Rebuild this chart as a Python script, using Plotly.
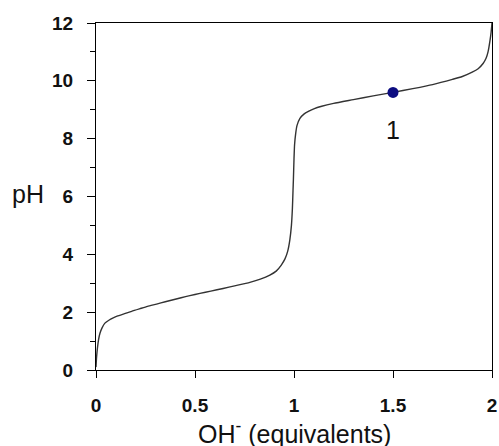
import plotly.graph_objects as go

# Titration curve
oh_equiv = [0, 0.003, 0.007, 0.013, 0.02, 0.03, 0.045, 0.065, 0.087, 0.11, 0.138, 0.18,
            0.222, 0.26, 0.306, 0.35, 0.39, 0.43, 0.474, 0.525, 0.58, 0.642, 0.70, 0.777,
            0.83, 0.878, 0.91, 0.935, 0.955, 0.968, 0.979, 0.987, 0.992, 0.995, 0.997,
            1.0, 1.003, 1.008, 1.015, 1.03, 1.05, 1.075, 1.1, 1.14, 1.2, 1.3, 1.4, 1.5,
            1.6, 1.7, 1.8, 1.85, 1.9, 1.93, 1.955, 1.97, 1.98, 1.99, 1.995, 2.0]
ph_values = [0.1, 0.45, 0.75, 1.05, 1.27, 1.45, 1.62, 1.72, 1.8, 1.87, 1.93, 2.03,
             2.12, 2.2, 2.28, 2.36, 2.43, 2.5, 2.57, 2.65, 2.73, 2.82, 2.91, 3.03,
             3.14, 3.28, 3.42, 3.62, 3.85, 4.1, 4.5, 5.0, 5.6, 6.2, 6.6,
             7.3, 7.8, 8.15, 8.45, 8.7, 8.85, 8.95, 9.03, 9.12, 9.22, 9.35, 9.48, 9.6,
             9.73, 9.87, 10.05, 10.15, 10.3, 10.42, 10.6, 10.78, 11.0, 11.4, 11.65, 12.0]

point_x = [1.5]
point_y = [9.6]
point_label = ["1"]

x_ticks = [0, 0.5, 1, 1.5, 2]
x_tick_text = ["0", "0.5", "1", "1.5", "2"]
y_ticks = [0, 2, 4, 6, 8, 10, 12]

fig = go.Figure()
fig.add_trace(go.Scatter(x=oh_equiv, y=ph_values, mode="lines",
                         line=dict(color="#333333", width=1.4, shape="spline", smoothing=0.6),
                         showlegend=False, hoverinfo="skip"))
fig.add_trace(go.Scatter(x=point_x, y=point_y, mode="markers",
                         marker=dict(color="#0c0c80", size=11),
                         showlegend=False))
for px, py, lbl in zip(point_x, point_y, point_label):
    fig.add_annotation(x=px, y=py - 1.3, text=lbl, showarrow=False,
                       font=dict(family="Liberation Sans, Arial", size=25, color="#111111"))

fig.add_annotation(xref="paper", yref="y", x=-0.172, y=6.1, text="pH", showarrow=False,
                   xanchor="center",
                   font=dict(family="Liberation Sans, Arial", size=25, color="#111111"))
fig.add_annotation(xref="x", yref="paper", x=1.0, y=-0.179, text="OH<sup>-</sup> (equivalents)",
                   showarrow=False, yanchor="middle",
                   font=dict(family="Liberation Sans, Arial", size=25, color="#111111"))

tickfont = dict(family="Liberation Sans, Arial", size=19, color="#111111", weight="bold")
fig.update_xaxes(range=[0, 2], tickvals=x_ticks, ticktext=x_tick_text, ticks="outside",
                 ticklen=7, tickwidth=1.3, tickcolor="black", showline=True, linecolor="black",
                 linewidth=1.3, mirror=True, showgrid=False, zeroline=False, automargin=False,
                 tickfont=tickfont, ticklabelstandoff=11)
fig.update_yaxes(range=[0, 12], tickvals=y_ticks, ticks="outside", ticklen=8, tickwidth=1.3,
                 tickcolor="black", showline=True, linecolor="black", linewidth=1.3,
                 mirror=True, showgrid=False, zeroline=False, automargin=False,
                 tickfont=tickfont, ticklabelstandoff=10,
                 minor=dict(tickvals=[1, 3, 5, 7, 9, 11], ticks="outside", ticklen=5,
                            tickwidth=1.2, tickcolor="black", showgrid=False))
fig.update_layout(width=499, height=446, margin=dict(l=96, r=7, t=23, b=76),
                  plot_bgcolor="white", paper_bgcolor="white")
# remove the browser's default page margin so the figure fills the window exactly
fig.write_html("out.html", config={"displayModeBar": False},
               post_script="document.body.style.margin='0';document.body.style.overflow='hidden';")
